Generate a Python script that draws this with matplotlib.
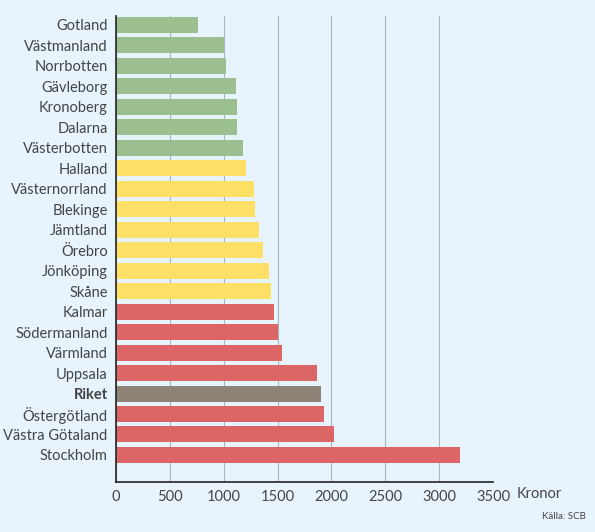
import matplotlib.pyplot as plt

plt.rcParams['font.family'] = ['Lato', 'DejaVu Sans']

lan = ['Gotland', 'Västmanland', 'Norrbotten', 'Gävleborg', 'Kronoberg', 'Dalarna',
       'Västerbotten', 'Halland', 'Västernorrland', 'Blekinge', 'Jämtland', 'Örebro',
       'Jönköping', 'Skåne', 'Kalmar', 'Södermanland', 'Värmland', 'Uppsala', 'Riket',
       'Östergötland', 'Västra Götaland', 'Stockholm']
kronor = [761, 1000, 1024, 1117, 1120, 1124, 1180, 1203, 1285, 1288, 1325, 1368,
          1421, 1439, 1464, 1507, 1540, 1868, 1906, 1928, 2024, 3190]
grupp = ['g'] * 7 + ['y'] * 7 + ['r'] * 4 + ['k'] + ['r'] * 3

farger = {'g': '#9bbf8e', 'y': '#ffe066', 'r': '#dc6565', 'k': '#8d8376'}
bg = '#e8f4fd'
txt = '#444444'

fig = plt.figure(figsize=(5.95, 5.32), dpi=100, facecolor=bg)
ax = fig.add_axes([0.195, 0.094, 0.6336, 0.8766], facecolor=bg)

y = range(len(lan))
ax.barh(y, kronor, height=0.78, color=[farger[g] for g in grupp], zorder=3)
ax.set_ylim(len(lan) - 1 + 1.32, -0.45)
ax.set_xlim(0, 3500)
ax.set_xticks(range(0, 3501, 500))
ax.set_yticks(list(y))
ax.set_yticklabels(lan)
for lbl in ax.get_yticklabels():
    if lbl.get_text() == 'Riket':
        lbl.set_fontweight('bold')
        lbl.set_color('#111111')
ax.tick_params(length=0, labelsize=10.5, colors=txt)
ax.tick_params(axis='y', pad=6)
ax.tick_params(axis='x', pad=6)
ax.grid(axis='x', color='#a9b4bf', linewidth=0.8, zorder=0)
for s in ['top', 'right']:
    ax.spines[s].set_visible(False)
for s in ['left', 'bottom']:
    ax.spines[s].set_color('#222222')
    ax.spines[s].set_linewidth(1.2)
    ax.spines[s].set_zorder(4)

fig.text(517 / 595, 1 - 494 / 532, 'Kronor', fontsize=10.5, color=txt, va='center')
fig.text(0.985, 0.02, 'Källa: SCB', fontsize=7, color=txt, ha='right', va='bottom')

fig.savefig('out.png', dpi=100, facecolor=bg)
